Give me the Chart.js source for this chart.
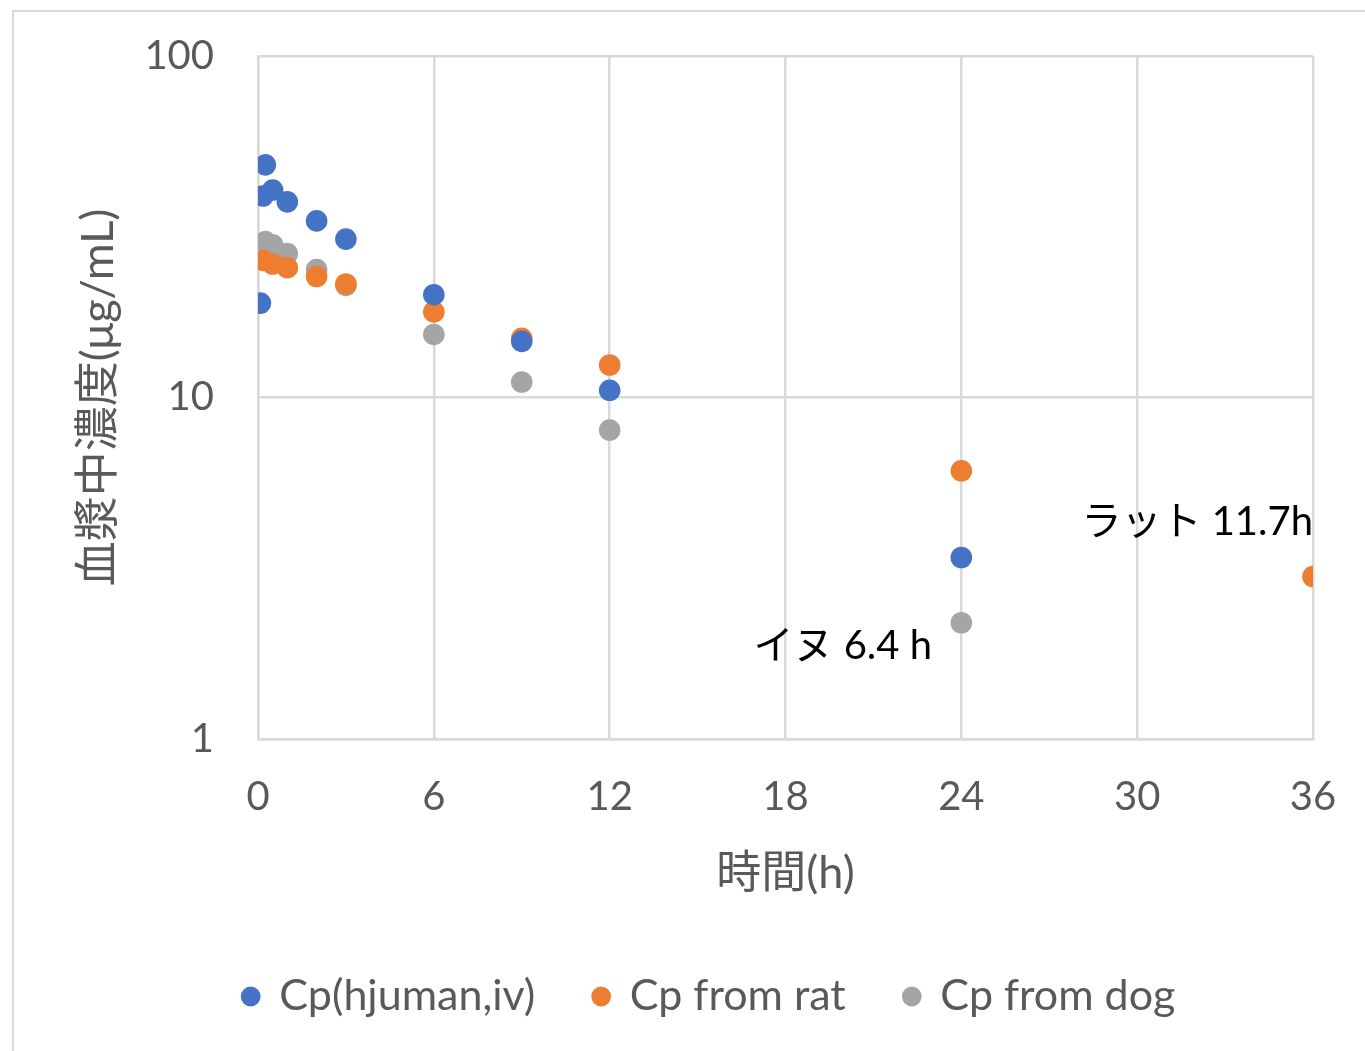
<!DOCTYPE html>
<html>
<head>
<meta charset="utf-8">
<script src="https://cdn.jsdelivr.net/npm/chart.js@4"></script>
<style>
  body { margin: 0; background: #fff; overflow: hidden; }
  #frame { position: absolute; left: 12px; top: 10px; width: 1400px; height: 1100px; border: 2px solid #d9d9d9; box-sizing: border-box; }
  #chart { position: absolute; left: 0; top: 0; }
</style>
</head>
<body>
<div id="frame"></div>
<canvas id="chart" width="1365" height="1051"></canvas>
<script>
// 時間 (h) と血漿中濃度 (µg/mL)
const humanTime = [0.083, 0.167, 0.25, 0.5, 1, 2, 3, 6, 9, 12, 24];
const humanConc = [18.9, 38.9, 48.0, 40.5, 37.4, 32.9, 29.1, 20.0, 14.6, 10.5, 3.4];

const ratTime = [0.167, 0.5, 1, 2, 3, 6, 9, 12, 24, 36];
const ratConc = [25.2, 24.6, 24.0, 22.6, 21.5, 17.8, 14.9, 12.45, 6.1, 2.99];

const dogTime = [0.25, 0.5, 1, 2, 3, 6, 9, 12, 24];
const dogConc = [28.6, 28.0, 26.4, 23.7, 21.3, 15.3, 11.1, 8.03, 2.19];

const seriesNames = ['Cp(hjuman,iv)', 'Cp from rat', 'Cp from dog'];
const yTicks = [1, 10, 100];

// 半減期の注記
const noteTexts = ['ラット 11.7h', 'イヌ 6.4 h'];
const noteX = [36, 23.0];
const noteY = [4.32, 1.87];

const FONT = 'Lato, "Noto Sans CJK JP", sans-serif';
const GRID = '#d9d9d9';
const TEXT = '#595959';

const toPoints = (xs, ys) => xs.map((x, i) => ({ x: x, y: ys[i] }));

const notePlugin = {
    id: 'notes',
    afterLayout(chart) {
        // 凡例を少し右へ（元の図の位置に合わせる）
        chart.legend.left += 53;
        chart.legend.right += 53;
    },
    afterDatasetsDraw(chart) {
        const { ctx, scales } = chart;
        ctx.save();
        ctx.font = '40px ' + FONT;
        ctx.fillStyle = '#000';
        ctx.textAlign = 'right';
        ctx.textBaseline = 'middle';
        for (let i = 0; i < noteTexts.length; i++) {
            ctx.fillText(noteTexts[i], scales.x.getPixelForValue(noteX[i]), scales.y.getPixelForValue(noteY[i]));
        }
        ctx.restore();
    }
};

new Chart(document.getElementById('chart'), {
    type: 'scatter',
    data: {
        datasets: [
            { label: seriesNames[0], data: toPoints(humanTime, humanConc), backgroundColor: '#4472C4' },
            { label: seriesNames[1], data: toPoints(ratTime, ratConc), backgroundColor: '#ED7D31' },
            { label: seriesNames[2], data: toPoints(dogTime, dogConc), backgroundColor: '#A5A5A5' }
        ]
    },
    options: {
        responsive: false,
        devicePixelRatio: 1,
        animation: false,
        elements: { point: { radius: 10.8, hoverRadius: 10.8, borderWidth: 0 } },
        layout: { padding: { top: 56, right: 52, left: 0, bottom: 23 } },
        plugins: {
            tooltip: { enabled: false },
            legend: {
                position: 'bottom',
                maxHeight: 135,
                labels: {
                    usePointStyle: true,
                    pointStyle: 'circle',
                    boxWidth: 14,
                    boxHeight: 14,
                    padding: 59,
                    color: TEXT,
                    font: { family: FONT, size: 43 }
                }
            }
        },
        scales: {
            x: {
                type: 'linear',
                min: 0,
                max: 36,
                afterFit: s => { s.height = 177; },
                ticks: { stepSize: 6, padding: 0, color: TEXT, font: { family: FONT, size: 40, lineHeight: 2.9 } },
                grid: { color: GRID, lineWidth: 2.5, drawTicks: false },
                border: { color: GRID, width: 2.5 },
                title: {
                    display: true,
                    text: '時間(h)',
                    color: TEXT,
                    font: { family: FONT, size: 45 },
                    padding: { top: 0, bottom: 16 }
                }
            },
            y: {
                type: 'logarithmic',
                min: 1,
                max: 100,
                afterFit: s => { s.width = 258; },
                afterBuildTicks: s => { s.ticks = yTicks.map(v => ({ value: v })); },
                ticks: { padding: 44, color: TEXT, font: { family: FONT, size: 40, lineHeight: 0.5 }, callback: v => String(v) },
                grid: { color: GRID, lineWidth: 2.5, drawTicks: false },
                border: { color: GRID, width: 2.5 },
                title: {
                    display: true,
                    text: '血漿中濃度(μg/mL)',
                    color: TEXT,
                    font: { family: FONT, size: 45 },
                    padding: { top: 71, bottom: 0 }
                }
            }
        }
    },
    plugins: [notePlugin]
});
</script>
</body>
</html>
